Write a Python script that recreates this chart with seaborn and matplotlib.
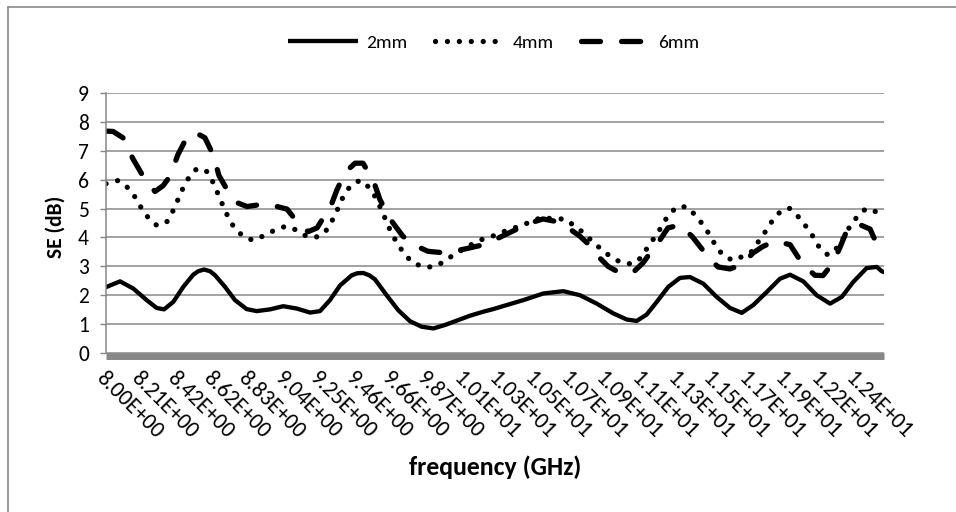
import matplotlib
matplotlib.use("Agg")
import matplotlib.pyplot as plt
from matplotlib import font_manager
from matplotlib.lines import Line2D
import pandas as pd
import seaborn as sns

# ---------------- data ----------------
tick_labels = ["8.00E+00", "8.21E+00", "8.42E+00", "8.62E+00", "8.83E+00", "9.04E+00",
               "9.25E+00", "9.46E+00", "9.66E+00", "9.87E+00", "1.01E+01", "1.03E+01",
               "1.05E+01", "1.07E+01", "1.09E+01", "1.11E+01", "1.13E+01", "1.15E+01",
               "1.17E+01", "1.19E+01", "1.22E+01", "1.24E+01"]
tick_start_ghz = 8.0
tick_step_ghz = 0.20787
freq_min_ghz, freq_max_ghz = 8.0, 12.53

freq_2mm = [8.000, 8.082, 8.159, 8.237, 8.295, 8.338, 8.392, 8.450, 8.508, 8.537,
            8.571, 8.606, 8.635, 8.693, 8.751, 8.819, 8.877, 8.955, 9.032, 9.110,
            9.188, 9.246, 9.304, 9.363, 9.431, 9.463, 9.498, 9.533, 9.566, 9.634,
            9.702, 9.770, 9.838, 9.906, 9.974, 10.051, 10.119, 10.197, 10.255, 10.333,
            10.430, 10.546, 10.663, 10.760, 10.857, 10.954, 11.032, 11.090, 11.148, 11.207,
            11.274, 11.342, 11.400, 11.478, 11.556, 11.633, 11.702, 11.769, 11.847, 11.924,
            11.983, 12.060, 12.138, 12.216, 12.284, 12.351, 12.429, 12.488, 12.517, 12.530]
se_2mm = [2.28, 2.48, 2.23, 1.83, 1.56, 1.51, 1.77, 2.29, 2.71, 2.83,
          2.89, 2.83, 2.69, 2.29, 1.83, 1.52, 1.45, 1.51, 1.62, 1.54,
          1.40, 1.45, 1.83, 2.34, 2.69, 2.76, 2.77, 2.69, 2.55, 2.00,
          1.48, 1.10, 0.91, 0.85, 0.97, 1.14, 1.29, 1.43, 1.52, 1.66,
          1.83, 2.06, 2.14, 2.00, 1.71, 1.37, 1.16, 1.11, 1.33, 1.77,
          2.29, 2.60, 2.63, 2.40, 1.94, 1.56, 1.39, 1.66, 2.11, 2.57,
          2.71, 2.48, 2.00, 1.71, 1.94, 2.46, 2.94, 2.98, 2.83, 2.80]

freq_4mm = [8.000, 8.070, 8.122, 8.169, 8.204, 8.245, 8.297, 8.355, 8.390, 8.419,
            8.448, 8.483, 8.530, 8.588, 8.623, 8.652, 8.681, 8.710, 8.745, 8.798,
            8.856, 8.920, 8.984, 9.048, 9.112, 9.170, 9.234, 9.287, 9.322, 9.351,
            9.380, 9.421, 9.479, 9.531, 9.572, 9.601, 9.630, 9.659, 9.694, 9.735,
            9.782, 9.846, 9.910, 9.974, 10.032, 10.085, 10.149, 10.213, 10.277, 10.341,
            10.411, 10.475, 10.539, 10.603, 10.673, 10.725, 10.783, 10.830, 10.882, 10.935,
            10.999, 11.063, 11.121, 11.156, 11.197, 11.237, 11.272, 11.325, 11.383, 11.430,
            11.476, 11.517, 11.552, 11.593, 11.651, 11.709, 11.762, 11.797, 11.837, 11.878,
            11.924, 11.977, 12.029, 12.076, 12.117, 12.152, 12.204, 12.256, 12.297, 12.332,
            12.373, 12.425, 12.489, 12.530]
se_4mm = [5.86, 5.97, 5.75, 5.40, 5.04, 4.69, 4.41, 4.55, 4.92, 5.31,
          5.70, 6.08, 6.39, 6.28, 5.91, 5.51, 5.10, 4.72, 4.35, 4.04,
          3.90, 4.06, 4.26, 4.39, 4.25, 4.03, 4.02, 4.27, 4.64, 5.01,
          5.40, 5.77, 5.98, 5.74, 5.37, 4.99, 4.59, 4.19, 3.81, 3.45,
          3.14, 2.98, 2.98, 3.18, 3.44, 3.60, 3.83, 3.99, 4.09, 4.27,
          4.39, 4.55, 4.70, 4.64, 4.64, 4.41, 4.15, 3.87, 3.60, 3.35,
          3.13, 3.08, 3.32, 3.69, 4.02, 4.39, 4.76, 5.06, 5.06, 4.78,
          4.44, 4.07, 3.69, 3.38, 3.20, 3.35, 3.52, 3.84, 4.18, 4.56,
          4.88, 5.02, 4.73, 4.38, 4.03, 3.67, 3.39, 3.64, 4.01, 4.39,
          4.71, 5.00, 4.88, 4.95]

freq_6mm = [8.000, 8.041, 8.099, 8.157, 8.216, 8.285, 8.332, 8.373, 8.419, 8.472,
            8.524, 8.576, 8.623, 8.658, 8.716, 8.769, 8.821, 8.926, 8.996, 9.054,
            9.118, 9.176, 9.229, 9.264, 9.304, 9.345, 9.392, 9.450, 9.496, 9.555,
            9.595, 9.636, 9.665, 9.729, 9.811, 9.875, 9.945, 10.020, 10.090, 10.178,
            10.253, 10.393, 10.480, 10.545, 10.614, 10.684, 10.760, 10.818, 10.865, 10.923,
            10.993, 11.034, 11.069, 11.127, 11.168, 11.226, 11.272, 11.342, 11.412, 11.499,
            11.563, 11.633, 11.703, 11.767, 11.825, 11.895, 11.983, 12.058, 12.128, 12.175,
            12.233, 12.274, 12.320, 12.390, 12.449, 12.507, 12.530]
se_6mm = [7.68, 7.67, 7.45, 6.72, 6.12, 5.59, 5.79, 6.12, 6.87, 7.48,
          7.62, 7.45, 6.87, 6.14, 5.54, 5.19, 5.07, 5.16, 5.07, 4.98,
          4.50, 4.20, 4.33, 4.67, 5.01, 5.65, 6.25, 6.57, 6.57, 6.00,
          5.31, 4.85, 4.55, 4.04, 3.69, 3.52, 3.48, 3.52, 3.60, 3.72,
          3.89, 4.29, 4.52, 4.64, 4.56, 4.36, 4.04, 3.72, 3.35, 3.00,
          2.77, 2.75, 2.79, 3.12, 3.46, 3.92, 4.33, 4.43, 4.04, 3.38,
          2.98, 2.91, 3.06, 3.46, 3.69, 3.87, 3.75, 3.06, 2.69, 2.68,
          3.12, 3.66, 4.33, 4.44, 4.29, 3.52, 3.35]

series_names = ["2mm", "4mm", "6mm"]

# ---------------- style ----------------
sns.set_theme(style="white")
available = {f.name for f in font_manager.fontManager.ttflist}
base_font = "Carlito" if "Carlito" in available else "Lato"
plt.rcParams["font.family"] = [base_font, "DejaVu Sans"]
plt.rcParams["text.color"] = "black"

W, H = 956, 512
GREY = "#878787"
fig = plt.figure(figsize=(W / 100, H / 100), dpi=100)
fig.patch.set_facecolor("white")
ax = fig.add_axes([106 / W, 1 - 353 / H, 778 / W, 260 / H])
ax.set_facecolor("white")

styles = {
    "2mm": dict(linewidth=3.1, linestyle="-"),
    "4mm": dict(linewidth=3.8, linestyle=(0, (0.01, 2.25))),
    "6mm": dict(linewidth=3.8, linestyle=(0, (3.6, 4.0))),
}
data = {"2mm": (freq_2mm, se_2mm), "4mm": (freq_4mm, se_4mm), "6mm": (freq_6mm, se_6mm)}

handles = []
for name in series_names:
    f, v = data[name]
    df = pd.DataFrame({"freq": f, "se": v})
    sns.lineplot(data=df, x="freq", y="se", ax=ax, color="black", sort=False,
                 estimator=None, legend=False, linewidth=styles[name]["linewidth"])
    ln = ax.lines[-1]
    ln.set_linestyle(styles[name]["linestyle"])
    ln.set_dash_capstyle("round")
    ln.set_solid_capstyle("round")
    ln.set_solid_joinstyle("round")
    ln.set_dash_joinstyle("round")
    h = Line2D([0], [0], color="black", linewidth=styles[name]["linewidth"],
               linestyle=styles[name]["linestyle"])
    h.set_dash_capstyle("round")
    h.set_solid_capstyle("butt")
    handles.append(h)

ax.set_xlim(freq_min_ghz, freq_max_ghz)
ax.set_ylim(0, 9)
ax.set_yticks(range(0, 10))
ax.set_xticks([tick_start_ghz + i * tick_step_ghz for i in range(len(tick_labels))])
ax.set_xticklabels(tick_labels)
ax.set_xlabel("")
ax.set_ylabel("")

ax.set_axisbelow(True)
ax.yaxis.grid(True, color=GREY, linewidth=1.1)
ax.xaxis.grid(False)

for s in ("top", "right"):
    ax.spines[s].set_visible(False)
ax.spines["left"].set_color(GREY)
ax.spines["left"].set_linewidth(1.1)
ax.spines["bottom"].set_color(GREY)
ax.spines["bottom"].set_linewidth(5.0)
ax.spines["bottom"].set_position(("outward", 2.5))
ax.spines["bottom"].set_capstyle("butt")

ax.tick_params(axis="y", length=4.3, width=1.0, color=GREY, labelsize=15.5,
               labelcolor="black", pad=8, left=True)
ax.tick_params(axis="x", length=0, labelsize=16.2, labelcolor="black", pad=8, bottom=True)
for lab in ax.get_xticklabels():
    lab.set_rotation(-45)
    lab.set_rotation_mode("anchor")
    lab.set_ha("left")
    lab.set_va("top")

fig.legend(handles, series_names, loc="center", bbox_to_anchor=(494 / W, 1 - 43 / H),
           ncol=3, frameon=False, fontsize=14, handlelength=3.6, handletextpad=0.4,
           columnspacing=1.4)

fig.text(56 / W, 1 - 227 / H, "SE (dB)", rotation=90, ha="center", va="center",
         fontsize=15.5, fontweight="bold")
fig.text(495 / W, 1 - 467 / H, "frequency (GHz)", ha="center", va="center",
         fontsize=18.5, fontweight="bold")

# chart area border (top and left edges visible)
fig.add_artist(Line2D([8 / W, 1], [1 - 7 / H, 1 - 7 / H], transform=fig.transFigure,
                      color=GREY, linewidth=1.2))
fig.add_artist(Line2D([8 / W, 8 / W], [0, 1 - 7 / H], transform=fig.transFigure,
                      color=GREY, linewidth=1.2))

fig.savefig("out.png", dpi=100, facecolor="white")
